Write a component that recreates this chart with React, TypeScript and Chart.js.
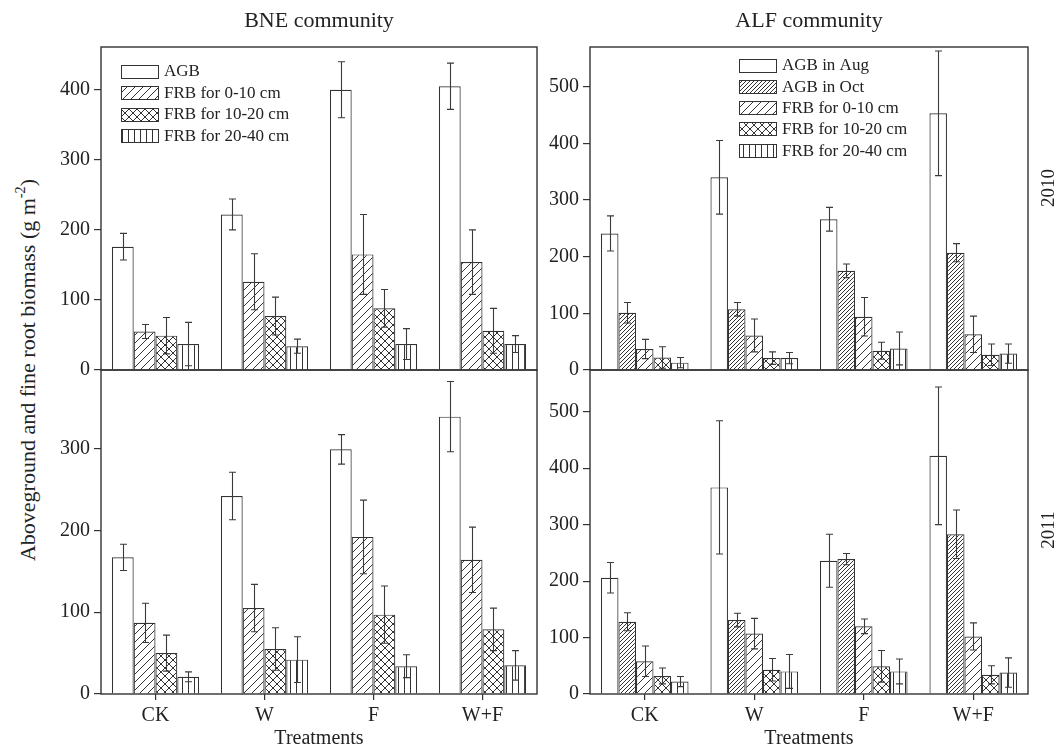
import React, { useEffect, useRef } from "react";
import { Chart, registerables } from "chart.js";
Chart.register(...registerables);

const FONT = '"Liberation Serif", "Times New Roman", serif';

const categories = ["CK", "W", "F", "W+F"];
const ticksBNE2010 = [0, 100, 200, 300, 400];
const ticksALF2010 = [0, 100, 200, 300, 400, 500];
const ticksBNE2011 = [0, 100, 200, 300];
const ticksALF2011 = [0, 100, 200, 300, 400, 500];

const bneLabels = ["AGB", "FRB for 0-10 cm", "FRB for 10-20 cm", "FRB for 20-40 cm"];
const alfLabels = ["AGB in Aug", "AGB in Oct", "FRB for 0-10 cm", "FRB for 10-20 cm", "FRB for 20-40 cm"];

// BNE community, 2010
const bne2010AGB = [176, 222, 400, 405];
const bne2010AGBErr = [19, 22, 40, 33];
const bne2010FRB0 = [55, 126, 165, 154];
const bne2010FRB0Err = [10, 40, 57, 46];
const bne2010FRB10 = [49, 77, 88, 56];
const bne2010FRB10Err = [26, 27, 27, 32];
const bne2010FRB20 = [37, 34, 37, 37];
const bne2010FRB20Err = [31, 10, 22, 12];

// BNE community, 2011
const bne2011AGB = [167, 242, 299, 339];
const bne2011AGBErr = [16, 29, 18, 43];
const bne2011FRB0 = [87, 105, 192, 164];
const bne2011FRB0Err = [24, 29, 45, 40];
const bne2011FRB10 = [50, 55, 97, 79];
const bne2011FRB10Err = [22, 26, 35, 26];
const bne2011FRB20 = [21, 42, 34, 35];
const bne2011FRB20Err = [6, 28, 14, 18];

// ALF community, 2010
const alf2010AGBAug = [241, 340, 266, 453];
const alf2010AGBAugErr = [31, 65, 21, 110];
const alf2010AGBOct = [101, 107, 175, 207];
const alf2010AGBOctErr = [18, 12, 12, 16];
const alf2010FRB0 = [37, 61, 94, 63];
const alf2010FRB0Err = [17, 29, 34, 32];
const alf2010FRB10 = [22, 21, 34, 27];
const alf2010FRB10Err = [19, 11, 15, 19];
const alf2010FRB20 = [13, 21, 38, 29];
const alf2010FRB20Err = [9, 10, 29, 17];

// ALF community, 2011
const alf2011AGBAug = [206, 366, 236, 422];
const alf2011AGBAugErr = [27, 118, 47, 122];
const alf2011AGBOct = [128, 131, 239, 283];
const alf2011AGBOctErr = [16, 12, 10, 43];
const alf2011FRB0 = [58, 107, 120, 102];
const alf2011FRB0Err = [27, 27, 13, 24];
const alf2011FRB10 = [32, 43, 49, 34];
const alf2011FRB10Err = [14, 20, 28, 16];
const alf2011FRB20 = [22, 40, 40, 38];
const alf2011FRB20Err = [9, 30, 22, 26];

const bnePatterns = ["open", "diag", "cross", "vert"];
const alfPatterns = ["open", "dense", "diag", "cross", "vert"];

const LINE = "#333";
const TEXT = "#222";

function makePattern(kind: string): any {
  if (kind === "open") return "#ffffff";
  const c = document.createElement("canvas");
  let s = 8;
  if (kind === "dense") s = 4;
  if (kind === "vert") s = 6;
  c.width = s;
  c.height = s;
  const ctx = c.getContext("2d")!;
  ctx.fillStyle = "#fff";
  ctx.fillRect(0, 0, s, s);
  ctx.strokeStyle = LINE;
  ctx.lineWidth = 1;
  ctx.beginPath();
  if (kind === "diag" || kind === "dense" || kind === "cross") {
    for (let k = -1; k <= 1; k++) {
      ctx.moveTo(k * s, s);
      ctx.lineTo(k * s + s, 0);
    }
  }
  if (kind === "cross") {
    for (let k = -1; k <= 1; k++) {
      ctx.moveTo(k * s, 0);
      ctx.lineTo(k * s + s, s);
    }
  }
  if (kind === "vert") {
    ctx.moveTo(3.5, 0);
    ctx.lineTo(3.5, s);
  }
  ctx.stroke();
  return ctx.createPattern(c, "repeat");
}

type PanelProps = {
  plotLeft: number;
  plotTop: number;
  plotW: number;
  plotH: number;
  yMax: number;
  yTicks: number[];
  labels: string[];
  values: number[][];
  errors: number[][];
  patterns: string[];
  showX: boolean;
  legend?: { dx: number; dy: number; rowH: number };
};

function Panel(p: PanelProps) {
  const ref = useRef<HTMLCanvasElement>(null);
  const padL = 60;
  const padR = 12;
  const padT = 18;
  const padB = 18;
  const xAxisH = 56;
  const bottomExtra = p.showX ? xAxisH : padB;
  const cw = padL + p.plotW + padR;
  const ch = padT + p.plotH + bottomExtra;

  useEffect(() => {
    const canvas = ref.current!;
    const fills = p.patterns.map(makePattern);
    const datasets = p.labels.map((label, i) => ({
      label,
      data: p.values[i],
      backgroundColor: fills[i],
      borderColor: LINE,
      borderWidth: 1.2,
      categoryPercentage: 0.8,
      barPercentage: 1.0,
    }));

    const boxPlugin = {
      id: "boxPlugin",
      afterDatasetsDraw(chart: any) {
        const ctx = chart.ctx;
        const ya = chart.scales.y;
        ctx.save();
        // error bars
        ctx.strokeStyle = "#3a3a3a";
        ctx.lineWidth = 1.1;
        chart.data.datasets.forEach((ds: any, i: number) => {
          const meta = chart.getDatasetMeta(i);
          meta.data.forEach((el: any, j: number) => {
            const v = p.values[i][j];
            const e = p.errors[i][j];
            const x = Math.round(el.x) + 0.5;
            const yt = ya.getPixelForValue(v + e);
            const yb = ya.getPixelForValue(Math.max(0, v - e));
            ctx.beginPath();
            ctx.moveTo(x, yt);
            ctx.lineTo(x, yb);
            ctx.moveTo(x - 3.5, yt);
            ctx.lineTo(x + 3.5, yt);
            ctx.moveTo(x - 3.5, yb);
            ctx.lineTo(x + 3.5, yb);
            ctx.stroke();
          });
        });
        // frame
        const a = chart.chartArea;
        ctx.strokeStyle = LINE;
        ctx.lineWidth = 1.4;
        ctx.strokeRect(a.left, a.top, a.right - a.left, a.bottom - a.top);
        // legend
        if (p.legend) {
          const lg = p.legend;
          ctx.font = `17px ${FONT}`;
          ctx.textBaseline = "middle";
          ctx.textAlign = "left";
          p.labels.forEach((lab, i) => {
            const bx = a.left + lg.dx;
            const cy = a.top + lg.dy + i * lg.rowH;
            const by = Math.round(cy - 6.5) + 0.5;
            ctx.fillStyle = fills[i];
            ctx.fillRect(bx, by, 38, 13);
            ctx.strokeStyle = LINE;
            ctx.lineWidth = 1;
            ctx.strokeRect(bx + 0.5, by, 37, 13);
            ctx.fillStyle = TEXT;
            ctx.fillText(lab, bx + 43, cy + 1);
          });
        }
        ctx.restore();
      },
    };

    const chart = new Chart(canvas, {
      type: "bar",
      data: { labels: categories, datasets },
      options: {
        responsive: false,
        animation: false,
        events: [],
        layout: { padding: { left: 0, right: padR, top: padT, bottom: p.showX ? 0 : padB } },
        plugins: { legend: { display: false }, tooltip: { enabled: false }, title: { display: false } },
        scales: {
          x: {
            display: p.showX,
            offset: true,
            grid: { offset: false, drawOnChartArea: false, drawTicks: true, tickLength: 6, color: LINE, lineWidth: 1.2 },
            border: { display: false },
            ticks: { font: { size: 20, family: FONT }, color: TEXT, padding: 4 },
            title: {
              display: true,
              text: "Treatments",
              font: { size: 20, family: FONT },
              color: TEXT,
              padding: { top: 0, bottom: -1 },
            },
            afterFit: (s: any) => {
              s.height = p.showX ? xAxisH : 0;
            },
          } as any,
          y: {
            min: 0,
            max: p.yMax,
            afterBuildTicks: (s: any) => {
              s.ticks = p.yTicks.map((v) => ({ value: v }));
            },
            ticks: {
              font: { size: 20, family: FONT },
              color: TEXT,
              padding: 4,
            },
            grid: { drawOnChartArea: false, drawTicks: true, tickLength: 7, color: LINE, lineWidth: 1.2 },
            border: { display: false },
            afterFit: (s: any) => {
              s.width = padL;
            },
          } as any,
        },
      },
      plugins: [boxPlugin],
    });
    return () => chart.destroy();
  }, []);

  return (
    <canvas
      ref={ref}
      width={cw}
      height={ch}
      style={{
        position: "absolute",
        left: p.plotLeft - padL,
        top: p.plotTop - padT,
        width: cw,
        height: ch,
      }}
    />
  );
}

export default function App() {
  const rotated = (text: React.ReactNode, x: number, y: number, size: number) => (
    <div
      style={{
        position: "absolute",
        left: x,
        top: y,
        transform: "translate(-50%, -50%) rotate(-90deg)",
        whiteSpace: "nowrap",
        fontSize: size,
        lineHeight: 1,
        color: TEXT,
      }}
    >
      {text}
    </div>
  );
  const title = (text: string, cx: number) => (
    <div
      style={{
        position: "absolute",
        left: cx,
        top: 20,
        transform: "translate(-50%, -50%)",
        whiteSpace: "nowrap",
        fontSize: 22,
        lineHeight: 1,
        color: TEXT,
      }}
    >
      {text}
    </div>
  );
  return (
    <div
      style={{
        position: "absolute",
        left: 0,
        top: 0,
        width: 1062,
        height: 750,
        background: "#fff",
        fontFamily: FONT,
        overflow: "hidden",
      }}
    >
      <Panel
        plotLeft={101}
        plotTop={47}
        plotW={436}
        plotH={323}
        yMax={461}
        yTicks={ticksBNE2010}
        labels={bneLabels}
        values={[bne2010AGB, bne2010FRB0, bne2010FRB10, bne2010FRB20]}
        errors={[bne2010AGBErr, bne2010FRB0Err, bne2010FRB10Err, bne2010FRB20Err]}
        patterns={bnePatterns}
        showX={false}
        legend={{ dx: 20, dy: 24, rowH: 21.5 }}
      />
      <Panel
        plotLeft={590}
        plotTop={47}
        plotW={438}
        plotH={323}
        yMax={570}
        yTicks={ticksALF2010}
        labels={alfLabels}
        values={[alf2010AGBAug, alf2010AGBOct, alf2010FRB0, alf2010FRB10, alf2010FRB20]}
        errors={[alf2010AGBAugErr, alf2010AGBOctErr, alf2010FRB0Err, alf2010FRB10Err, alf2010FRB20Err]}
        patterns={alfPatterns}
        showX={false}
        legend={{ dx: 149, dy: 18, rowH: 21.3 }}
      />
      <Panel
        plotLeft={101}
        plotTop={370}
        plotW={436}
        plotH={324}
        yMax={396}
        yTicks={ticksBNE2011}
        labels={bneLabels}
        values={[bne2011AGB, bne2011FRB0, bne2011FRB10, bne2011FRB20]}
        errors={[bne2011AGBErr, bne2011FRB0Err, bne2011FRB10Err, bne2011FRB20Err]}
        patterns={bnePatterns}
        showX={true}
      />
      <Panel
        plotLeft={590}
        plotTop={370}
        plotW={438}
        plotH={324}
        yMax={574}
        yTicks={ticksALF2011}
        labels={alfLabels}
        values={[alf2011AGBAug, alf2011AGBOct, alf2011FRB0, alf2011FRB10, alf2011FRB20]}
        errors={[alf2011AGBAugErr, alf2011AGBOctErr, alf2011FRB0Err, alf2011FRB10Err, alf2011FRB20Err]}
        patterns={alfPatterns}
        showX={true}
      />
      {title("BNE community", 319)}
      {title("ALF community", 809)}
      {rotated(
        <span>
          Aboveground and fine root biomass (g m<sup style={{ fontSize: "0.65em", verticalAlign: "0.7em" }}>-2</sup>)
        </span>,
        26,
        370,
        22
      )}
      {rotated("2010", 1047, 188, 19)}
      {rotated("2011", 1047, 530, 19)}
    </div>
  );
}
